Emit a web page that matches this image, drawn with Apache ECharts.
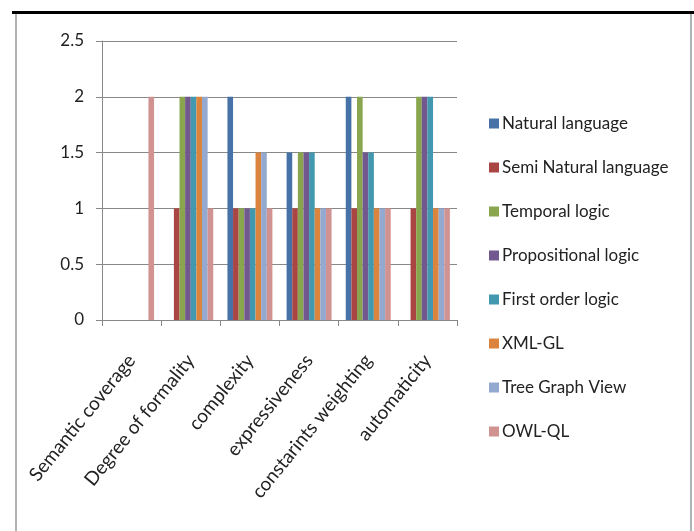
<!DOCTYPE html>
<html>
<head>
<meta charset="utf-8">
<script src="https://cdn.jsdelivr.net/npm/echarts@6/dist/echarts.min.js"></script>
<style>
  html, body { margin: 0; padding: 0; background: #fff; }
  #chart { width: 694px; height: 531px; }
</style>
</head>
<body>
<div id="chart"></div>
<script>
// categories on the x axis
var categories = ['Semantic coverage', 'Degree of formality', 'complexity',
  'expressiveness', 'constarints weighting', 'automaticity'];

// one array per language, values per category
var naturalLanguage     = [0, 0, 2, 1.5, 2, 0];
var semiNaturalLanguage = [0, 1, 1, 1, 1, 1];
var temporalLogic       = [0, 2, 1, 1.5, 2, 2];
var propositionalLogic  = [0, 2, 1, 1.5, 1.5, 2];
var firstOrderLogic     = [0, 2, 1, 1.5, 1.5, 2];
var xmlGL               = [0, 2, 1.5, 1, 1, 1];
var treeGraphView       = [0, 2, 1.5, 1, 1, 1];
var owlQL               = [2, 1, 1, 1, 1, 1];

var seriesNames = ['Natural language', 'Semi Natural language', 'Temporal logic',
  'Propositional logic', 'First order logic', 'XML-GL', 'Tree Graph View', 'OWL-QL'];
var seriesData = [naturalLanguage, semiNaturalLanguage, temporalLogic,
  propositionalLogic, firstOrderLogic, xmlGL, treeGraphView, owlQL];
var colors = ['#4672A8', '#A94644', '#89A54E', '#71588F', '#4198AF', '#DB843D', '#93A9CF', '#D19392'];

var font = 'Lato, "Open Sans", sans-serif';

var chart = echarts.init(document.getElementById('chart'));

var series = seriesNames.map(function (name, i) {
  return {
    name: name,
    type: 'bar',
    data: seriesData[i],
    barGap: '0%',
    barCategoryGap: '24%',
    itemStyle: { color: colors[i] }
  };
});

chart.setOption({
  animation: false,
  color: colors,
  graphic: [
    { type: 'line', shape: { x1: 12, y1: 12.5, x2: 694, y2: 12.5 }, style: { stroke: '#000', lineWidth: 3 } },
    { type: 'line', shape: { x1: 16, y1: 14, x2: 16, y2: 531 }, style: { stroke: '#999', lineWidth: 1.5 } },
    { type: 'line', shape: { x1: 691, y1: 14, x2: 691, y2: 531 }, style: { stroke: '#999', lineWidth: 1.5 } }
  ],
  grid: { left: 102, right: 237, top: 41, bottom: 211, containLabel: false },
  legend: {
    orient: 'vertical',
    left: 484,
    top: 110,
    itemWidth: 10,
    itemHeight: 10,
    itemGap: 27,
    icon: 'rect',
    textStyle: { fontFamily: font, fontSize: 17, color: '#222', padding: [0, 0, 0, -2] },
    data: seriesNames
  },
  xAxis: {
    type: 'category',
    data: categories,
    axisLine: { lineStyle: { color: '#888' } },
    axisTick: { show: true, length: 6, lineStyle: { color: '#888' } },
    axisLabel: {
      interval: 0,
      rotate: 51,
      margin: 37,
      fontFamily: font,
      fontSize: 19,
      color: '#222'
    }
  },
  yAxis: {
    type: 'value',
    min: 0,
    max: 2.5,
    interval: 0.5,
    axisLine: { show: true, lineStyle: { color: '#888' } },
    axisTick: { show: true, length: 6, lineStyle: { color: '#888' } },
    splitLine: { lineStyle: { color: '#888' } },
    axisLabel: { margin: 18, fontFamily: font, fontSize: 17, color: '#222' }
  },
  series: series
});
</script>
</body>
</html>
